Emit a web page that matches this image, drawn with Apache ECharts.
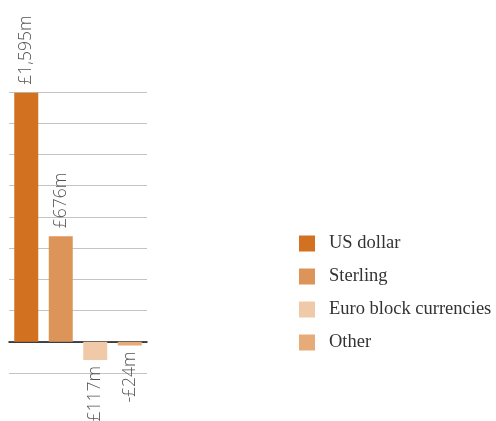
<!DOCTYPE html>
<html>
<head>
<meta charset="utf-8">
<script src="https://cdn.jsdelivr.net/npm/echarts@6/dist/echarts.min.js"></script>
<style>
  html, body { margin: 0; padding: 0; background: #fff; }
  #chart { width: 496px; height: 421px; }
</style>
</head>
<body>
<div id="chart"></div>
<script>
// Currency exposure, £m
const categories = ['US dollar', 'Sterling', 'Euro block currencies', 'Other'];
const values = [1595, 676, -117, -24];
const colors = ['#D2711F', '#DC9459', '#F0C9A9', '#E6AB79'];

function fmt(v) {
  const s = '£' + Math.abs(v).toLocaleString('en-GB') + 'm';
  return v < 0 ? '-' + s : s;
}

// one series per category so each gets its own legend entry
const series = categories.map((name, i) => {
  const data = categories.map((c, j) => (j === i ? values[i] : '-'));
  const neg = values[i] < 0;
  return {
    name: name,
    type: 'bar',
    data: data,
    barWidth: 24,
    barGap: '-100%',
    itemStyle: { color: colors[i] },
    label: {
      show: true,
      position: neg ? 'bottom' : 'top',
      rotate: 90,
      align: neg ? 'right' : 'left',
      verticalAlign: 'middle',
      distance: neg ? 6 : 8,
      formatter: p => fmt(p.value),
      fontFamily: 'Open Sans',
      fontWeight: 300,
      fontSize: 17.5,
      color: '#555'
    }
  };
});

const chart = echarts.init(document.getElementById('chart'), null, { renderer: 'canvas' });
chart.setOption({
  animation: false,
  color: colors,
  grid: { left: 9, right: 349, top: 92, bottom: 48 },
  xAxis: {
    type: 'category',
    data: categories,
    axisLine: { show: true, onZero: true, lineStyle: { color: '#111', width: 1.5 } },
    axisTick: { show: false },
    axisLabel: { show: false }
  },
  yAxis: {
    type: 'value',
    min: -200,
    max: 1600,
    interval: 200,
    axisLine: { show: false },
    axisTick: { show: false },
    axisLabel: { show: false },
    splitLine: { lineStyle: { color: '#c4c4c4', width: 1 } }
  },
  legend: {
    orient: 'vertical',
    left: 299,
    top: 234,
    padding: 0,
    itemWidth: 16,
    itemHeight: 16,
    itemGap: 14,
    icon: 'rect',
    textStyle: {
      fontFamily: 'Liberation Serif',
      fontSize: 18.5,
      lineHeight: 16,
      color: '#333',
      padding: [0, 0, 0, 9]
    },
    data: categories
  },
  series: series
});
</script>
</body>
</html>
